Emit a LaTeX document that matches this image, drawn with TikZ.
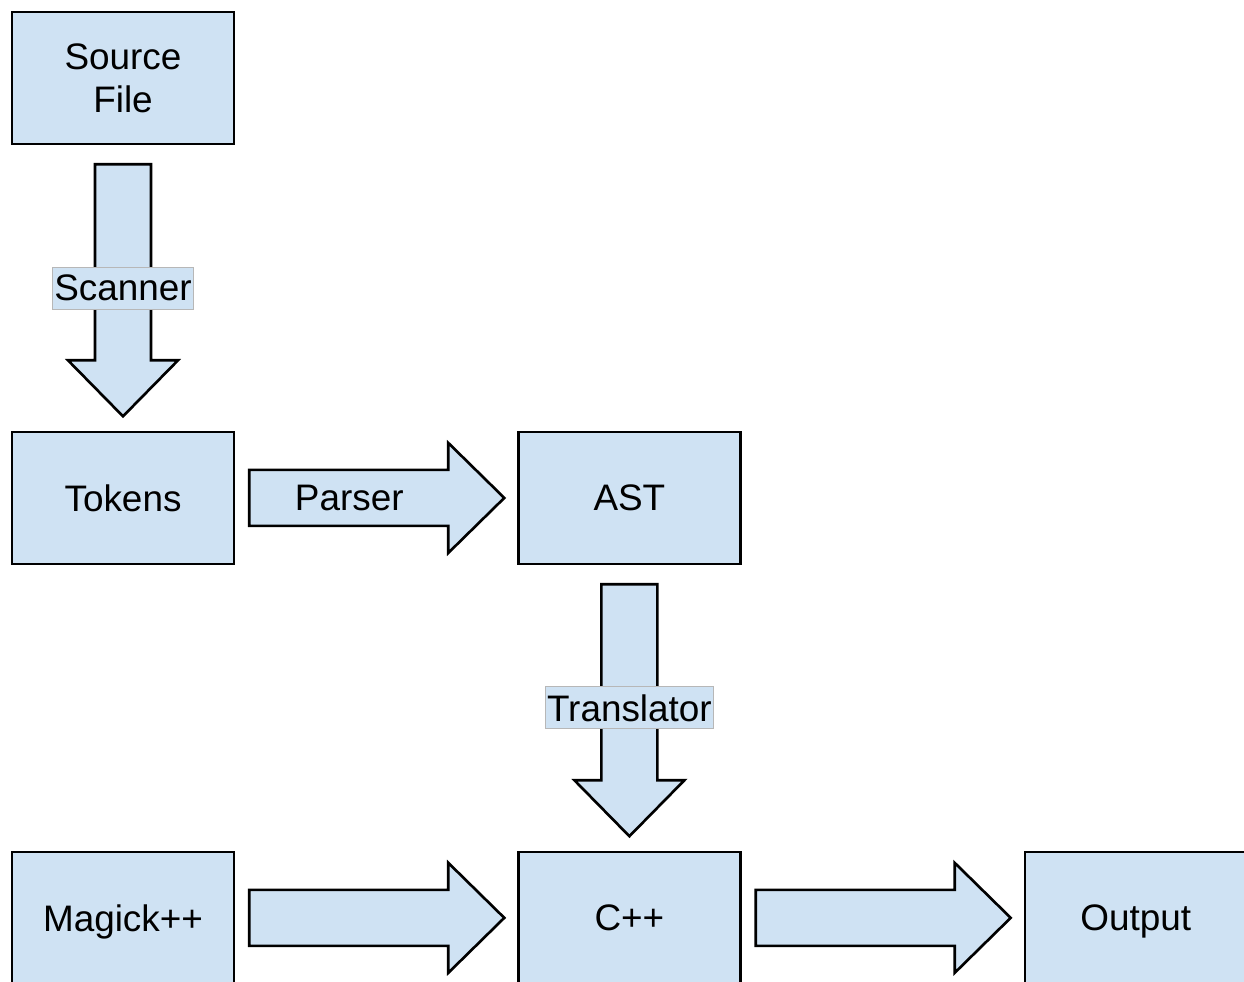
\documentclass[tikz,border=0pt]{standalone}
\usepackage{fontspec}
\setmainfont{Liberation Sans}
\usetikzlibrary{calc}

\definecolor{boxblue}{RGB}{207,226,243}
\definecolor{tagline}{RGB}{183,183,183}

\begin{document}
\begin{tikzpicture}[x=0.02cm,y=0.02cm,node distance=8.4cm,
                    block/.style={rectangle,draw,line width=1.5pt,fill=boxblue,
                                  minimum width=4.44cm,minimum height=2.64cm,text depth=0pt,
                                  font=\fontsize{21}{24.5}\selectfont},
                    fat/.style={draw,line width=1.5pt,fill=boxblue,line join=miter},
                    fat down/.style={insert path={-- ++(0,-196) -- ++(-27,0) -- ++(55,-56)
                                     -- ++(55,56) -- ++(-27,0) -- ++(0,196) -- cycle}},
                    fat right/.style={insert path={-- ++(199,0) -- ++(0,27) -- ++(56,-55)
                                      -- ++(-56,-55) -- ++(0,27) -- ++(-199,0) -- cycle}},
                    tag/.style={draw=tagline,line width=0.5pt,fill=boxblue,inner xsep=1pt,
                                inner ysep=0pt,minimum height=0.84cm,
                                font=\fontsize{21}{24.5}\selectfont}]
  \path[use as bounding box,clip] (0,0) rectangle (1244,-981);

  \node[block,align=center,text depth=] (src) at (123,-78) {Source\\File};
  \node[block] (tok) [below of=src] {Tokens};
  \node[block] (ast) [right of=tok,node distance=10.13cm] {AST};
  \node[block] (magick) [below of=tok] {Magick++};
  \node[block] (cpp) [right of=magick,node distance=10.13cm] {C++};
  \node[block] (out) [right of=cpp,node distance=10.13cm] {Output};

  % fat arrows
  \draw[fat] ($(src.south)+(-28,-19)$) [fat down];
  \draw[fat] ($(tok.east)+(14,28)$) [fat right];
  \draw[fat] ($(ast.south)+(-28,-19)$) [fat down];
  \draw[fat] ($(magick.east)+(14,28)$) [fat right];
  \draw[fat] ($(cpp.east)+(14,28)$) [fat right];

  \node[tag] (scan) at ($(src.south)!.5!(tok.north)$) {Scanner};
  \node[font=\fontsize{21}{24.5}\selectfont] (pars) at ($(tok.east)+(114,0)$) {Parser};
  \node[tag] (trans) at ($(ast.south)!.5!(cpp.north)$) {Translator};
\end{tikzpicture}
\end{document}
